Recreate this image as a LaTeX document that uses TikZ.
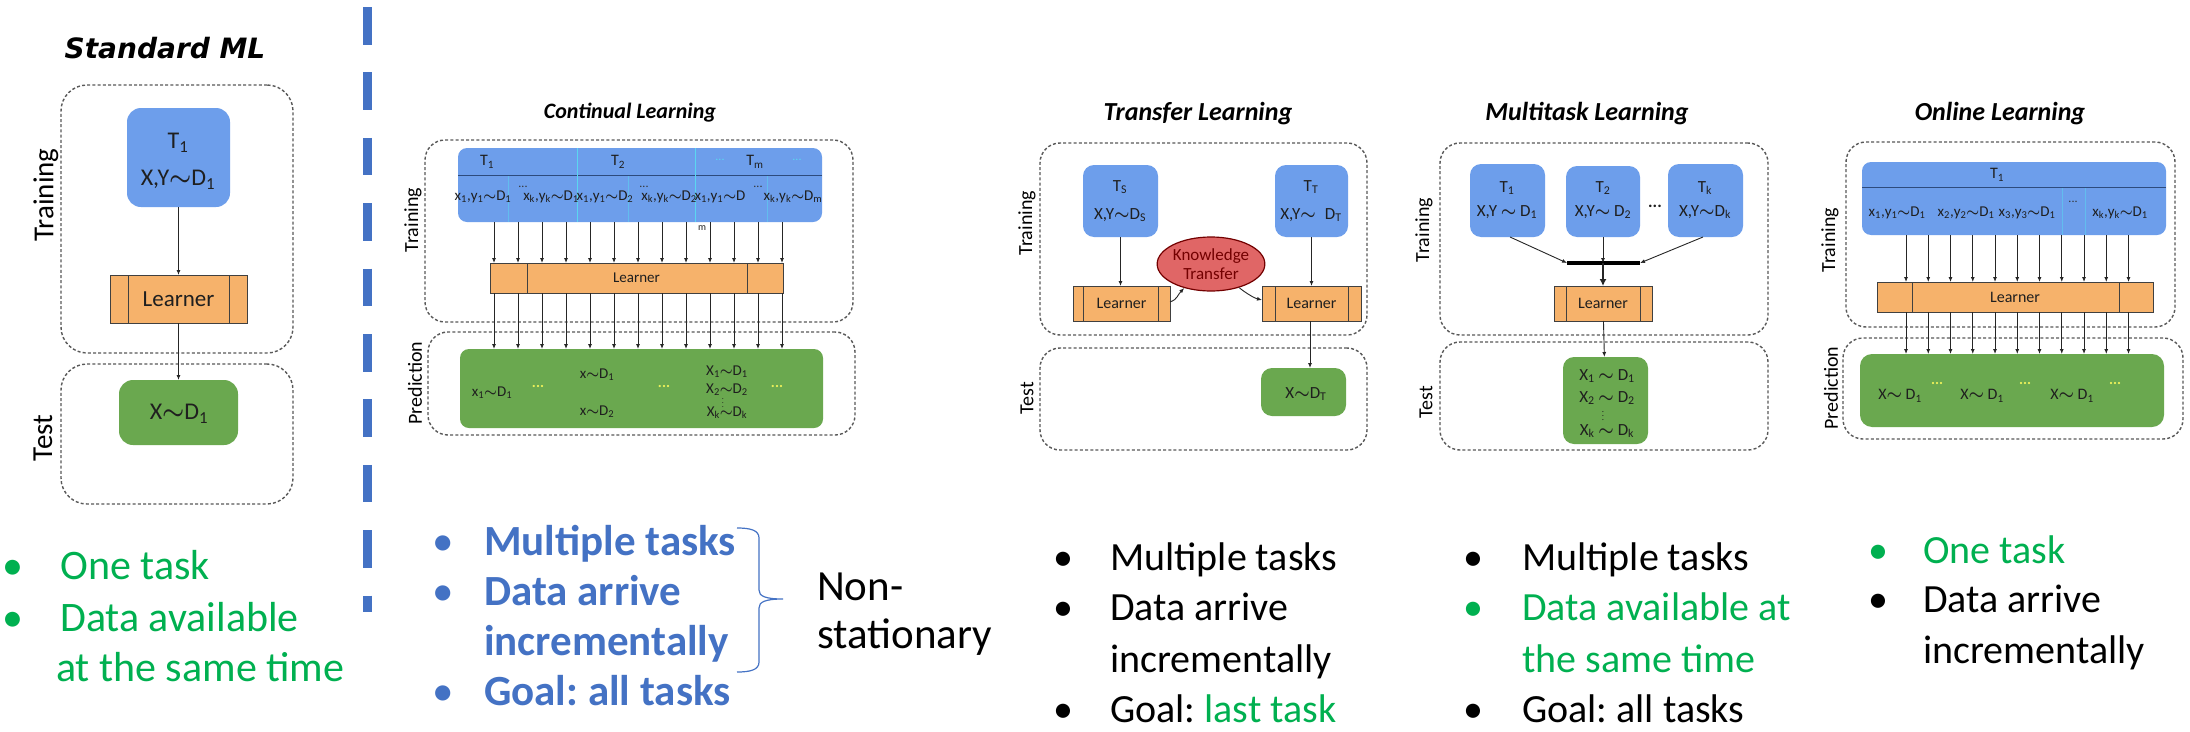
\documentclass[tikz,border=0pt]{standalone}
\usepackage{fontspec}
\setmainfont{Carlito}
\newfontfamily\verdana{DejaVu Sans}
\usetikzlibrary{arrows.meta,shapes.geometric,fit}
\frenchspacing

\newcommand\fs[1]{\fontsize{#1}{#1}\selectfont}
\newcommand\tld{{\boldmath$\sim$}}
\newcommand\sbs[1]{\textsubscript{#1}}

\definecolor{taskblue}{RGB}{109,158,235}
\definecolor{learnorange}{RGB}{246,178,107}
\definecolor{testgreen}{RGB}{106,168,79}
\definecolor{ktred}{RGB}{224,102,102}
\definecolor{slideblue}{RGB}{68,114,196}
\definecolor{slidegreen}{RGB}{0,176,80}
\definecolor{rulecyan}{RGB}{90,215,240}
\definecolor{dotyellow}{RGB}{235,240,90}
\definecolor{headblue}{RGB}{45,75,125}

\tikzset{
  phase/.style={draw=black!65, line width=1.4pt, dash pattern=on 3pt off 2.2pt,
    rounded corners=20pt, inner sep=0pt, outer sep=0pt},
  task/.style={fill=taskblue, rounded corners=11pt, inner sep=0pt, outer sep=0pt},
  learnbox/.style={fill=learnorange, draw=black!75, line width=1pt, inner sep=0pt, outer sep=0pt},
  outbox/.style={fill=testgreen, rounded corners=11pt, inner sep=0pt, outer sep=0pt},
  flow/.style={draw=black!85, line width=0.9pt, -{Latex[length=5pt,width=4pt]}},
  divider/.style={draw=black!75, line width=1pt},
  phasetag/.style={rotate=90, font=\fs{20}, inner sep=0pt},
  lbl/.style={inner sep=0pt, text=black!88},
  paneltitle/.style={font=\fs{26}\bfseries\itshape, inner sep=0pt},
  bulletmark/.style={anchor=base, font=\fs{40}, inner sep=0pt},
  btext/.style={anchor=base west, font=\fs{40}, inner sep=0pt},
  ydots/.style={text=dotyellow, font=\fs{15}\bfseries, inner sep=0pt},
  kdots/.style={text=black!80, font=\fs{12}, inner sep=0pt},
}

\begin{document}
\begin{tikzpicture}[x=1pt,y=-1pt]
\useasboundingbox (0,0) rectangle (2190,731);
\fill[white] (0,0) rectangle (2190,731);

% ================= Standard ML =================
\node[font=\verdana\fs{28}\bfseries\itshape, inner sep=0pt] (sTitle) at (165,48) {Standard ML};
\node[phase, rounded corners=26pt, fit={(61,85) (293,353)}] (sTrain) {};
\node[phasetag, font=\fs{29}] (sTrainTag) at (46,195) {Training};
\node[task, rounded corners=14pt, fit={(127,108) (230,207)}] (sTask) {};
\node[lbl, font=\fs{24}] (sTaskA) at (178,143) {T\sbs{1}};
\node[lbl, font=\fs{24}] (sTaskB) at (178,180) {X,Y\tld D\sbs{1}};
\node[learnbox, fit={(110,275) (247,323)}] (sLearn) {};
\draw[divider] (sLearn.north -| 128,0) -- (sLearn.south -| 128,0);
\draw[divider] (sLearn.north -| 229,0) -- (sLearn.south -| 229,0);
\node[lbl, font=\fs{23}] (sLearnT) at (sLearn.center) {Learner};
\node[phase, rounded corners=26pt, fit={(61,364) (293,504)}] (sTest) {};
\node[phasetag, font=\fs{29}] (sTestTag) at (43,438) {Test};
\node[outbox, rounded corners=14pt, fit={(119,380) (238,445)}] (sOut) {};
\node[lbl, font=\fs{24}] (sOutT) at (179,414) {X\tld D\sbs{1}};
\draw[flow] (sTask) -- (sLearn);
\draw[flow] (sLearn) -- (sOut);

\node[bulletmark, text=slidegreen, font=\fs{42}] (sB1) at (13,579) {•};
\node[btext, text=slidegreen, font=\fs{42}] (sL1) at (60,579) {One task};
\node[bulletmark, text=slidegreen, font=\fs{42}] (sB2) at (13,631) {•};
\node[btext, text=slidegreen, font=\fs{42}] (sL2) at (60,631) {Data available};
\node[btext, text=slidegreen, font=\fs{42}] (sL3) at (56,681) {at the same time};

% dashed separator
\draw[slideblue, line width=9pt, dash pattern=on 37.5pt off 27.9pt] (367.5,7) -- (367.5,612);

% ================= Continual Learning =================
\node[paneltitle, font=\fs{22}\bfseries\itshape] (cTitle) at (630,113) {Continual Learning};
\node[phase, fit={(425,140) (853,322)}] (cTrain) {};
\node[phasetag] (cTrainTag) at (413,220) {Training};
\node[task, rounded corners=9pt, fit={(458,148) (822,222)}] (cTask) {};
\draw[headblue, line width=1pt] (cTask.west |- 0,175) -- (cTask.east |- 0,175);
\foreach \x in {577,695} \draw[rulecyan, line width=1pt] (cTask.north -| \x,0) -- (cTask.south -| \x,0);
\foreach \x in {508,628,767} \draw[rulecyan!55!taskblue, line width=0.8pt] (\x,176) -- (cTask.south -| \x,0);
\node[lbl, font=\fs{16}] (cT1) at (487,162) {T\sbs{1}};
\node[lbl, font=\fs{16}] (cT2) at (618,162) {T\sbs{2}};
\node[lbl, font=\fs{16}] (cTm) at (755,162) {T\sbs{m}};
\node[kdots, text=rulecyan] (cHd1) at (720,160) {...};
\node[kdots, text=rulecyan] (cHd2) at (797,160) {...};
\node[lbl, font=\fs{15}] (cR1) at (483,197) {x\sbs{1},y\sbs{1}\tld D\sbs{1}};
\node[kdots] (cRd1) at (523,187) {...};
\node[lbl, font=\fs{15}] (cR2) at (551,197) {x\sbs{k},y\sbs{k}\tld D\sbs{1}};
\node[lbl, font=\fs{15}] (cR3) at (605,197) {x\sbs{1},y\sbs{1}\tld D\sbs{2}};
\node[kdots] (cRd2) at (644,187) {...};
\node[lbl, font=\fs{15}] (cR4) at (669,197) {x\sbs{k},y\sbs{k}\tld D\sbs{2}};
\node[lbl, font=\fs{15}] (cR5) at (720,197) {x\sbs{1},y\sbs{1}\tld D};
\node[lbl, font=\fs{10}] (cR5m) at (702,228) {m};
\node[kdots] (cRd3) at (758,187) {...};
\node[lbl, font=\fs{15}] (cR6) at (793,197) {x\sbs{k},y\sbs{k}\tld D\sbs{m}};

\node[learnbox, fit={(490,263) (783,293)}] (cLearn) {};
\draw[divider] (cLearn.north -| 527,0) -- (cLearn.south -| 527,0);
\draw[divider] (cLearn.north -| 747,0) -- (cLearn.south -| 747,0);
\node[lbl, font=\fs{15}] (cLearnT) at (cLearn.center) {Learner};

\node[phase, fit={(428,332) (855,435)}] (cPred) {};
\node[phasetag] (cPredTag) at (415,383) {Prediction};
\node[outbox, rounded corners=9pt, fit={(460,349) (823,428)}] (cOut) {};
\node[lbl, font=\fs{15}] (cP1) at (492,393) {x\sbs{1}\tld D\sbs{1}};
\node[ydots] (cPd1) at (538,386) {...};
\node[lbl, font=\fs{15}] (cP2) at (597,375) {x\tld D\sbs{1}};
\node[lbl, font=\fs{15}] (cP3) at (597,412) {x\tld D\sbs{2}};
\node[ydots] (cPd2) at (664,386) {...};
\node[lbl, font=\fs{15}] (cP4) at (727,372) {X\sbs{1}\tld D\sbs{1}};
\node[lbl, font=\fs{15}] (cP5) at (727,390) {X\sbs{2}\tld D\sbs{2}};
\node[lbl, font=\fs{8}] (cP6) at (723,400) {$\vdots$};
\node[lbl, font=\fs{15}] (cP7) at (727,413) {X\sbs{k}\tld D\sbs{k}};
\node[ydots] (cPd3) at (777,386) {...};

\foreach \i in {0,...,12}{
  \pgfmathsetmacro{\ax}{494+24*\i}
  \coordinate (cCol) at (\ax,0);
  \draw[flow] (cTask.south -| cCol) -- (cLearn.north -| cCol);
  \draw[flow] (cLearn.south -| cCol) -- (cOut.north -| cCol);
}

\node[bulletmark, text=slideblue, font=\fs{43}] (cB1) at (443,555) {•};
\node[btext, text=slideblue, font=\fs{43}\bfseries] (cL1) at (484,555) {Multiple tasks};
\node[bulletmark, text=slideblue, font=\fs{43}] (cB2) at (443,605) {•};
\node[btext, text=slideblue, font=\fs{43}\bfseries] (cL2) at (484,605) {Data arrive};
\node[btext, text=slideblue, font=\fs{43}\bfseries] (cL3) at (484,655) {incrementally};
\node[bulletmark, text=slideblue, font=\fs{43}] (cB4) at (443,705) {•};
\node[btext, text=slideblue, font=\fs{43}\bfseries] (cL4) at (484,705) {Goal: all tasks};
% brace grouping the first two items
\draw[slideblue, line width=1.2pt] (737,528) .. controls (750,528) and (759,530) .. (759,538)
  -- (759,590) .. controls (759,596) and (765,599) .. (783,599)
  .. controls (765,599) and (759,602) .. (759,608)
  -- (759,662) .. controls (759,670) and (750,672) .. (737,672);
\node[btext, font=\fs{43}] (cNs1) at (817,600) {Non-};
\node[btext, font=\fs{43}] (cNs2) at (817,648) {stationary};

% ================= Transfer Learning =================
\node[paneltitle] (tTitle) at (1198,114) {Transfer Learning};
\node[phase, fit={(1040,143) (1367,335)}] (tTrain) {};
\node[phasetag] (tTrainTag) at (1027,223) {Training};
\node[task, fit={(1083,165) (1158,237)}] (tS) {};
\node[lbl, font=\fs{17}] (tSa) at (1120,187) {T\sbs{S}};
\node[lbl, font=\fs{17}] (tSb) at (1120,215) {X,Y\tld D\sbs{S}};
\node[task, fit={(1275,165) (1348,237)}] (tT) {};
\node[lbl, font=\fs{17}] (tTa) at (1311,187) {T\sbs{T}};
\node[lbl, font=\fs{17}] (tTb) at (1311,215) {X,Y\tld\hspace{9pt}D\sbs{T}};
\node[ellipse, fill=ktred, draw=black!55!red, line width=1.2pt, minimum width=96pt,
  minimum height=54pt, inner sep=0pt, align=center, font=\fontsize{17}{19}\selectfont,
  text=black!55!red] (tKT) at (1211,264) {Knowledge\\Transfer};
\node[learnbox, fit={(1073,286) (1170,321)}] (tLL) {};
\draw[divider] (tLL.north -| 1083,0) -- (tLL.south -| 1083,0);
\draw[divider] (tLL.north -| 1158,0) -- (tLL.south -| 1158,0);
\node[lbl, font=\fs{16}] (tLLt) at (tLL.center) {Learner};
\node[learnbox, fit={(1262,286) (1361,321)}] (tLR) {};
\draw[divider] (tLR.north -| 1275,0) -- (tLR.south -| 1275,0);
\draw[divider] (tLR.north -| 1348,0) -- (tLR.south -| 1348,0);
\node[lbl, font=\fs{16}] (tLRt) at (tLR.center) {Learner};
\node[phase, fit={(1040,348) (1367,450)}] (tTest) {};
\node[phasetag] (tTestTag) at (1027,398) {Test};
\node[outbox, fit={(1261,368) (1346,416)}] (tOut) {};
\node[lbl, font=\fs{17}] (tOutT) at (1306,394) {X\tld D\sbs{T}};
\draw[flow] (tS.south) -- (tLL.north -| tS.south);
\draw[flow] (tT.south) -- (tLR.north -| tT.south);
\draw[flow] (tLR.south -| 1310,0) -- (tOut.north -| 1310,0);
\draw[flow] ([yshift=-16pt]tLL.north east) .. controls +(8,-3) and +(-7,7) .. (tKT.222);
\draw[flow] (tKT.-40) .. controls +(6,5) and +(-8,-2) .. ([yshift=-14pt]tLR.north west);

\node[bulletmark] (tB1) at (1063,570) {•};
\node[btext] (tL1) at (1110,570) {Multiple tasks};
\node[bulletmark] (tB2) at (1063,620) {•};
\node[btext] (tL2) at (1110,620) {Data arrive};
\node[btext] (tL3) at (1110,672) {incrementally};
\node[bulletmark] (tB4) at (1063,722) {•};
\node[btext] (tL4) at (1110,722) {Goal: \textcolor{slidegreen}{last task}};

% ================= Multitask Learning =================
\node[paneltitle] (mTitle) at (1587,114) {Multitask Learning};
\node[phase, fit={(1440,143) (1768,335)}] (mTrain) {};
\node[phasetag] (mTrainTag) at (1424,230) {Training};
\node[task, fit={(1470,164) (1545,237)}] (m1) {};
\node[lbl, font=\fs{17}] (m1a) at (1507,188) {T\sbs{1}};
\node[lbl, font=\fs{17}] (m1b) at (1507,212) {X,Y \tld\ D\sbs{1}};
\node[task, fit={(1566,166) (1640,237)}] (m2) {};
\node[lbl, font=\fs{17}] (m2a) at (1603,188) {T\sbs{2}};
\node[lbl, font=\fs{17}] (m2b) at (1603,212) {X,Y\tld\ D\sbs{2}};
\node[task, fit={(1668,164) (1743,237)}] (mk) {};
\node[lbl, font=\fs{17}] (mka) at (1705,188) {T\sbs{k}};
\node[lbl, font=\fs{17}] (mkb) at (1705,212) {X,Y\tld D\sbs{k}};
\node[lbl, font=\fs{17}\bfseries] (mDots) at (1655,206) {...};
\coordinate (mBarL) at (1567,263);
\coordinate (mBarR) at (1640,263);
\coordinate (mBarM) at (1603,263);
\draw[black, line width=4pt] (mBarL) -- (mBarR);
\node[learnbox, fit={(1554,286) (1652,321)}] (mLearn) {};
\draw[divider] (mLearn.north -| 1566,0) -- (mLearn.south -| 1566,0);
\draw[divider] (mLearn.north -| 1640,0) -- (mLearn.south -| 1640,0);
\node[lbl, font=\fs{16}] (mLearnT) at (mLearn.center) {Learner};
\draw[flow] (m1.south -| 1510,0) -- (mBarL);
\draw[flow] (mk.south -| 1703,0) -- (mBarR);
\draw[flow] (m2.south) -- (mBarM);
\draw[flow, line width=2.4pt, -{Latex[length=7pt,width=7pt]}] (mBarM) -- (mLearn.north);
\node[phase, fit={(1440,342) (1768,450)}] (mTest) {};
\node[phasetag] (mTestTag) at (1426,402) {Test};
\node[outbox, fit={(1563,357) (1648,444)}] (mOut) {};
\node[lbl, font=\fs{17}] (mO1) at (1607,376) {X\sbs{1} \tld\ D\sbs{1}};
\node[lbl, font=\fs{17}] (mO2) at (1607,398) {X\sbs{2} \tld\ D\sbs{2}};
\node[lbl, font=\fs{9}] (mO3) at (1603,413) {$\vdots$};
\node[lbl, font=\fs{17}] (mO4) at (1607,431) {X\sbs{k} \tld\ D\sbs{k}};
\draw[flow] (mLearn) -- (mOut);

\node[bulletmark] (mB1) at (1473,570) {•};
\node[btext] (mL1) at (1522,570) {Multiple tasks};
\node[bulletmark, text=slidegreen] (mB2) at (1473,620) {•};
\node[btext, text=slidegreen] (mL2) at (1522,620) {Data available at};
\node[btext, text=slidegreen] (mL3) at (1522,672) {the same time};
\node[bulletmark] (mB4) at (1473,722) {•};
\node[btext] (mL4) at (1522,722) {Goal: all tasks};

% ================= Online Learning =================
\node[paneltitle] (oTitle) at (2000,114) {Online Learning};
\node[phase, fit={(1846,142) (2175,327)}] (oTrain) {};
\node[phasetag] (oTrainTag) at (1830,240) {Training};
\node[task, rounded corners=9pt, fit={(1862,162) (2166,235)}] (oTask) {};
\draw[headblue, line width=1pt] (oTask.west |- 0,187) -- (oTask.east |- 0,187);
\foreach \x in {2062,2085} \draw[rulecyan!55!taskblue, line width=0.8pt] (\x,188) -- (oTask.south -| \x,0);
\node[lbl, font=\fs{16}] (oT1) at (1997,175) {T\sbs{1}};
\node[lbl, font=\fs{15}] (oR1) at (1897,213) {x\sbs{1},y\sbs{1}\tld D\sbs{1}};
\node[lbl, font=\fs{15}] (oR2) at (1966,213) {x\sbs{2},y\sbs{2}\tld D\sbs{1}};
\node[lbl, font=\fs{15}] (oR3) at (2027,213) {x\sbs{3},y\sbs{3}\tld D\sbs{1}};
\node[kdots] (oRd) at (2073,202) {...};
\node[lbl, font=\fs{15}] (oR4) at (2120,213) {x\sbs{k},y\sbs{k}\tld D\sbs{1}};
\node[learnbox, fit={(1877,282) (2153,312)}] (oLearn) {};
\draw[divider] (oLearn.north -| 1912,0) -- (oLearn.south -| 1912,0);
\draw[divider] (oLearn.north -| 2119,0) -- (oLearn.south -| 2119,0);
\node[lbl, font=\fs{16}] (oLearnT) at (oLearn.center) {Learner};
\node[phase, fit={(1843,338) (2183,439)}] (oPred) {};
\node[phasetag] (oPredTag) at (1831,388) {Prediction};
\node[outbox, rounded corners=12pt, fit={(1860,354) (2164,427)}] (oOut) {};
\node[lbl, font=\fs{16}] (oP1) at (1900,396) {X\tld\ D\sbs{1}};
\node[ydots] (oPd1) at (1937,383) {...};
\node[lbl, font=\fs{16}] (oP2) at (1982,396) {X\tld\ D\sbs{1}};
\node[ydots] (oPd2) at (2025,383) {...};
\node[lbl, font=\fs{16}] (oP3) at (2072,396) {X\tld\ D\sbs{1}};
\node[ydots] (oPd3) at (2115,383) {...};
\foreach \i in {0,...,10}{
  \pgfmathsetmacro{\ax}{1906+22.25*\i}
  \coordinate (oCol) at (\ax,0);
  \draw[flow] (oTask.south -| oCol) -- (oLearn.north -| oCol);
  \draw[flow] (oLearn.south -| oCol) -- (oOut.north -| oCol);
}

\node[bulletmark, text=slidegreen] (oB1) at (1878,563) {•};
\node[btext, text=slidegreen] (oL1) at (1923,563) {One task};
\node[bulletmark] (oB2) at (1878,612) {•};
\node[btext] (oL2) at (1923,612) {Data arrive};
\node[btext] (oL3) at (1923,663) {incrementally};
\end{tikzpicture}
\end{document}
